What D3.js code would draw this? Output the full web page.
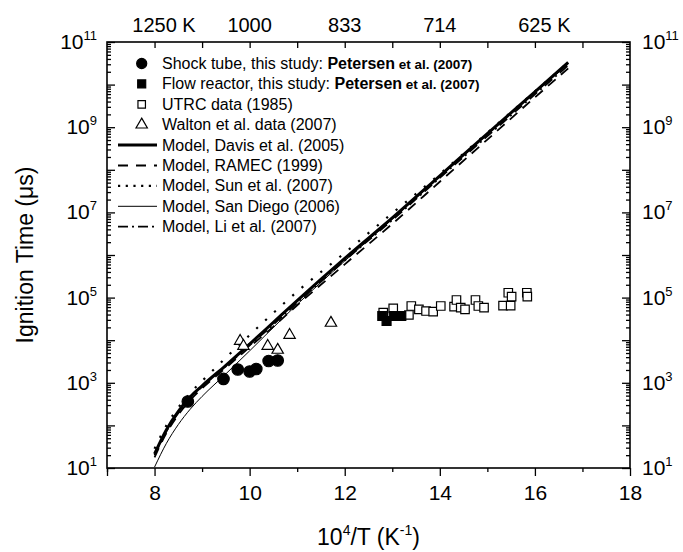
<!DOCTYPE html>
<html>
<head>
<meta charset="utf-8">
<script src="https://cdn.jsdelivr.net/npm/d3@7"></script>
<style>
  body { margin: 0; background: #fff; }
  text { font-family: "Liberation Sans", Arial, sans-serif; fill: #000; }
</style>
</head>
<body>
<svg id="chart" width="683" height="552"></svg>
<script>

// ---- data (ignition time in microseconds vs 10^4/T) ----
var modelX   = [8.0, 8.25, 8.5, 8.75, 9.0, 9.5, 10.0, 10.5, 11.0, 12.0, 13.0, 14.0, 15.0, 16.0, 16.7];
var davis    = [21.4, 79.4, 214, 468, 851, 2570, 8130, 26300, 85100, 832000, 7.41e6, 7.24e7, 7.08e8, 6.76e9, 3.31e10];
var ramec    = [17.8, 66.1, 178, 389, 741, 2240, 6920, 20900, 66100, 603000, 5.37e6, 5.25e7, 5.13e8, 5.01e9, 2.40e10];
var sun      = [28.2, 100, 263, 575, 1100, 3890, 13200, 43700, 138000, 1.12e6, 9.55e6, 7.94e7, 7.41e8, 6.92e9, 3.31e10];
var sanDiego = [10.5, 38.0, 105, 240, 479, 1620, 5620, 20000, 69200, 724000, 6.92e6, 6.92e7, 6.76e8, 6.46e9, 3.02e10];
var li       = [20.0, 72.4, 195, 427, 813, 2450, 7590, 23400, 75900, 741000, 6.61e6, 6.46e7, 6.17e8, 5.89e9, 2.82e10];

var shockX = [8.70, 9.45, 9.75, 10.00, 10.14, 10.40, 10.59];
var shockY = [364, 1230, 2050, 1840, 2110, 3250, 3340];

var flowX = [12.79, 12.88, 13.03, 13.19];
var flowY = [37000, 28300, 37000, 37000];

var utrcX = [12.81, 13.02, 13.35, 13.40, 13.56, 13.71, 13.86, 14.02, 14.30, 14.35, 14.44, 14.53,
             14.75, 14.81, 14.93, 15.33, 15.44, 15.49, 15.51, 15.83, 15.84];
var utrcY = [44300, 56100, 39100, 63500, 53100, 48400, 46700, 63500, 61100, 87900, 57900, 53100,
             87900, 63500, 57900, 64600, 130000, 64600, 105000, 130000, 105000];

var waltonX = [9.80, 9.87, 10.38, 10.59, 10.84, 11.71];
var waltonY = [9570, 7300, 7300, 5900, 13250, 25400];

var xTicks = [8, 10, 12, 14, 16, 18];
var topTicks = [8, 10, 12, 14, 16];
var topLabels = ["1250", "1000", "833", "714", "625"];
var yLabelExp = [1, 3, 5, 7, 9, 11];

// ---- setup ----
var svg = d3.select("#chart"),
    margin = {top: 42, right: 53, bottom: 84, left: 107},
    width = 683 - margin.left - margin.right,
    height = 552 - margin.top - margin.bottom,
    g = svg.append("g").attr("transform", "translate(" + margin.left + "," + margin.top + ")");

var x = d3.scaleLinear().domain([7, 18]).range([0, width]);
var y = d3.scaleLog().domain([10, 1e11]).range([height, 0]);

var decades = [], minors = [];
for (var k = 1; k <= 11; k++) {
  decades.push(Math.pow(10, k));
  if (k < 11) for (var m = 2; m <= 9; m++) minors.push(m * Math.pow(10, k));
}
var unitTicks = d3.range(7, 19);
var oddTicks = unitTicks.filter(function(d) { return d % 2 == 1; });

// bottom axis: major labelled, minor short, both outward
g.append("g")
    .attr("transform", "translate(0," + height + ")")
    .call(d3.axisBottom(x).tickValues(oddTicks).tickSize(4).tickSizeOuter(0).tickFormat(""));
g.append("g")
    .attr("class", "xmajor")
    .attr("transform", "translate(0," + height + ")")
    .call(d3.axisBottom(x).tickValues(xTicks.concat([7])).tickSize(8).tickSizeOuter(0).tickPadding(9)
      .tickFormat(function(d) { return xTicks.indexOf(d) >= 0 ? d : ""; }))
    .selectAll("text").style("font-size", "21px").style("font-family", "Liberation Sans, Arial, sans-serif");

// top axis: ticks inward
g.append("g")
    .call(d3.axisTop(x).tickValues(d3.range(8, 18)).tickSize(-6).tickSizeOuter(0).tickFormat(""));

topTicks.forEach(function(t, i) {
  var lab = g.append("text")
      .attr("x", x(t))
      .attr("y", -10)
      .attr("text-anchor", "middle")
      .style("font-size", "20px")
      .text(topLabels[i]);
  if (i == 0 || i == topTicks.length - 1) {
    var w = lab.node().getComputedTextLength();
    g.append("text")
        .attr("x", x(t) + w / 2)
        .attr("y", -10)
        .style("font-size", "20px")
        .text("\u00a0K");
  }
});

// left and right axes, ticks inward
g.append("g")
    .call(d3.axisLeft(y).tickValues(minors).tickSize(-4).tickSizeOuter(0).tickFormat(""));
g.append("g")
    .call(d3.axisLeft(y).tickValues(decades).tickSize(-8).tickSizeOuter(0).tickFormat(""));
g.append("g")
    .attr("transform", "translate(" + width + ",0)")
    .call(d3.axisRight(y).tickValues(minors).tickSize(-4).tickSizeOuter(0).tickFormat(""));
g.append("g")
    .attr("transform", "translate(" + width + ",0)")
    .call(d3.axisRight(y).tickValues(decades).tickSize(-8).tickSizeOuter(0).tickFormat(""));

g.selectAll(".domain").remove();
g.selectAll(".tick line").attr("stroke", "#000").attr("stroke-width", 1.3);

g.append("rect")
    .attr("width", width)
    .attr("height", height)
    .attr("fill", "none")
    .attr("stroke", "#000")
    .attr("stroke-width", 1.6);

// power-of-ten labels
yLabelExp.forEach(function(e) {
  var yy = y(Math.pow(10, e)) + 7;
  var left = g.append("text").attr("x", -10).attr("y", yy).attr("text-anchor", "end").style("font-size", "21px");
  left.append("tspan").text("10");
  left.append("tspan").attr("dy", -9).style("font-size", "13px").text(e);
  var right = g.append("text").attr("x", width + 12).attr("y", yy).style("font-size", "21px");
  right.append("tspan").text("10");
  right.append("tspan").attr("dy", -9).style("font-size", "13px").text(e);
});

// axis titles
var yt = svg.append("text")
    .attr("transform", "translate(33," + (margin.top + height / 2) + ") rotate(-90)")
    .attr("text-anchor", "middle")
    .style("font-size", "23px");
yt.append("tspan").text("Ignition Time (\u03bcs)");

var xt = svg.append("text")
    .attr("x", margin.left + width / 2)
    .attr("y", 545)
    .attr("text-anchor", "middle")
    .style("font-size", "23px");
xt.append("tspan").text("10");
xt.append("tspan").attr("dy", -10).style("font-size", "14px").text("4");
xt.append("tspan").attr("dy", 10).text("/T (K");
xt.append("tspan").attr("dy", -10).style("font-size", "14px").text("-1");
xt.append("tspan").attr("dy", 10).text(")");

// ---- model lines ----
var line = d3.line()
    .x(function(d) { return x(d[0]); })
    .y(function(d) { return y(d[1]); })
    .curve(d3.curveMonotoneX);

var models = [
  {name: "Model, Davis et al. (2005)",  values: davis,    width: 3,   dash: null,        legendDash: null},
  {name: "Model, RAMEC (1999)",         values: ramec,    width: 1.8, dash: "10,7",      legendDash: "10,8"},
  {name: "Model, Sun et al. (2007)",    values: sun,      width: 2.2, dash: "2.2,10",    legendDash: "2.2,5.5"},
  {name: "Model, San Diego (2006)",     values: sanDiego, width: 1,   dash: null,        legendDash: null},
  {name: "Model, Li et al. (2007)",     values: li,       width: 1.8, dash: "10,4,2,4",  legendDash: "10,4,2,4"}
];

[3, 1, 4, 2, 0].forEach(function(i) {
  var md = models[i];
  g.append("path")
      .datum(modelX.map(function(v, j) { return [v, md.values[j]]; }))
      .attr("fill", "none")
      .attr("stroke", "#000")
      .attr("stroke-width", md.width)
      .attr("stroke-dasharray", md.dash)
      .attr("d", line);
});

// ---- experimental points ----
var circleSym = d3.symbol().type(d3.symbolCircle).size(104);
var squareSym = d3.symbol().type(d3.symbolSquare).size(72);
var filledSquareSym = d3.symbol().type(d3.symbolSquare).size(80);
var triSym = d3.symbol().type(d3.symbolTriangle).size(56);

function drawPoints(xs, ys, sym, fill) {
  g.selectAll(null)
      .data(xs.map(function(v, j) { return [v, ys[j]]; }))
      .enter().append("path")
      .attr("transform", function(d) { return "translate(" + x(d[0]) + "," + y(d[1]) + ")"; })
      .attr("d", sym)
      .attr("fill", fill)
      .attr("stroke", "#000")
      .attr("stroke-width", 1.2);
}

drawPoints(waltonX, waltonY, triSym, "#fff");
drawPoints(utrcX, utrcY, squareSym, "#fff");
drawPoints(flowX, flowY, filledSquareSym, "#000");
drawPoints(shockX, shockY, circleSym, "#000");

// ---- legend ----
var legend = svg.append("g");
var ly0 = 63.5, ldy = 20.4, symX = 141.7, textX = 162;

var pointRows = [
  {sym: d3.symbol().type(d3.symbolCircle).size(80), fill: "#000", text: "Shock tube, this study: ", bold: true},
  {sym: d3.symbol().type(d3.symbolSquare).size(64), fill: "#000", text: "Flow reactor, this study: ", bold: true},
  {sym: d3.symbol().type(d3.symbolSquare).size(56), fill: "#fff", text: "UTRC data (1985)", bold: false},
  {sym: d3.symbol().type(d3.symbolTriangle).size(56), fill: "#fff", text: "Walton et al. data (2007)", bold: false}
];

pointRows.forEach(function(r, i) {
  var yy = ly0 + i * ldy;
  legend.append("path")
      .attr("transform", "translate(" + symX + "," + yy + ")")
      .attr("d", r.sym)
      .attr("fill", r.fill)
      .attr("stroke", "#000")
      .attr("stroke-width", 1.2);
  var t = legend.append("text").attr("x", textX).attr("y", yy + 5.5).style("font-size", "16px");
  t.append("tspan").text(r.text);
  if (r.bold) {
    t.append("tspan").style("font-weight", "bold").text("Petersen");
    t.append("tspan").style("font-weight", "bold").style("font-size", "13.5px").text(" et al. (2007)");
  }
});

models.forEach(function(md, i) {
  var yy = ly0 + (i + 4) * ldy;
  legend.append("line")
      .attr("x1", 118).attr("x2", 157)
      .attr("y1", yy).attr("y2", yy)
      .attr("stroke", "#000")
      .attr("stroke-width", md.width)
      .attr("stroke-dasharray", md.legendDash);
  legend.append("text")
      .attr("x", textX)
      .attr("y", yy + 5.5)
      .style("font-size", "16px")
      .text(md.name);
});

</script>
</body>
</html>
